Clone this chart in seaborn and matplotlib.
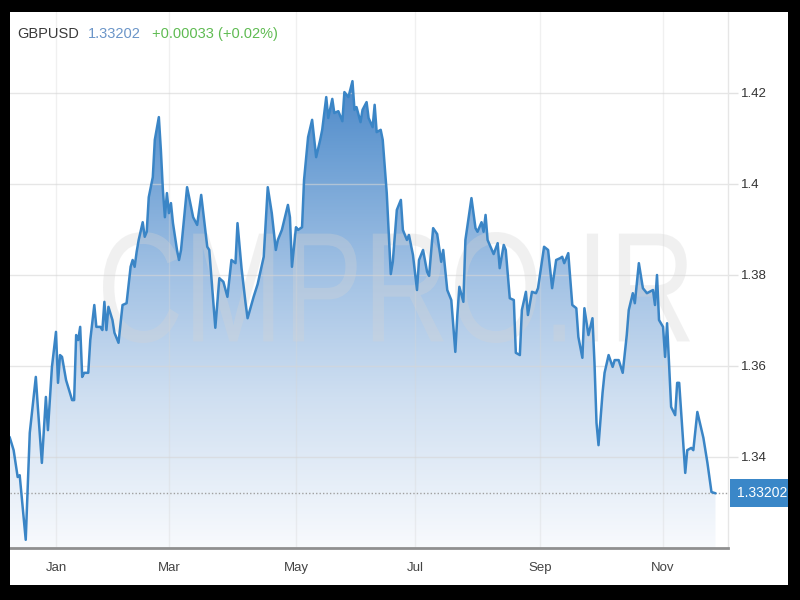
import numpy as np
import pandas as pd
import matplotlib
matplotlib.use("Agg")
import matplotlib.pyplot as plt
import matplotlib.dates as mdates
import seaborn as sns
from matplotlib.colors import LinearSegmentedColormap
from matplotlib.patches import Rectangle, PathPatch
from matplotlib.textpath import TextPath
from matplotlib.font_manager import FontProperties
from matplotlib.transforms import Affine2D

# ---------------- data ----------------
symbol = "GBPUSD"
last_price = 1.33202
change_text = "+0.00033 (+0.02%)"
watermark = "CMPRO.IR"
base_date = "2021-01-01"

# days since base_date
day_offsets = [
    -20, -18, -16, -15, -12, -10, -7, -6, -4, -2, -1, 1, 3, 4, 5, 6, 8, 11, 12, 13,
    14, 15, 16, 17, 19, 20, 22, 23, 25, 26, 27, 28, 29, 31, 32, 34, 36, 38, 40, 41,
    42, 43, 44, 46, 47, 48, 49, 51, 52, 54, 55, 56, 57, 58, 59, 60, 61, 63, 64, 65,
    68, 71, 73, 75, 78, 79, 82, 84, 86, 88, 90, 92, 93, 95, 97, 98, 101, 103, 106, 108,
    110, 112, 113, 115, 118, 119, 120, 122, 123, 125, 126, 128, 130, 132, 134, 135, 137, 138, 140, 141,
    143, 145, 146, 148, 150, 151, 152, 154, 155, 157, 158, 160, 161, 162, 164, 165, 167, 168, 169, 170,
    172, 174, 175, 177, 178, 180, 182, 183, 185, 187, 188, 190, 192, 194, 195, 197, 199, 201, 202, 203,
    205, 206, 209, 211, 212, 214, 215, 216, 217, 220, 222, 223, 225, 226, 228, 230, 231, 233, 234, 236,
    237, 239, 241, 242, 245, 247, 249, 251, 253, 254, 255, 257, 259, 261, 262, 264, 265, 267, 269, 270,
    271, 272, 274, 275, 277, 279, 280, 282, 284, 286, 287, 289, 290, 292, 294, 296, 299, 300, 301, 302,
    304, 305, 306, 308, 310, 311, 312, 314, 315, 316, 318, 319, 321, 324, 326, 328, 330,
]
prices = [
    1.3444, 1.3415, 1.3356, 1.3360, 1.3218, 1.3453, 1.3576, 1.3510, 1.3387, 1.3532,
    1.3459, 1.3598, 1.3675, 1.3563, 1.3624, 1.3620, 1.3569, 1.3525, 1.3525, 1.3668,
    1.3657, 1.3686, 1.3576, 1.3585, 1.3585, 1.3657, 1.3734, 1.3686, 1.3686, 1.3679,
    1.3741, 1.3679, 1.3730, 1.3701, 1.3673, 1.3651, 1.3734, 1.3738, 1.3818, 1.3833,
    1.3818, 1.3851, 1.3877, 1.3916, 1.3884, 1.3895, 1.3971, 1.4015, 1.4097, 1.4147,
    1.4075, 1.3987, 1.3927, 1.3980, 1.3936, 1.3958, 1.3914, 1.3855, 1.3833, 1.3855,
    1.3993, 1.3927, 1.3910, 1.3976, 1.3862, 1.3855, 1.3684, 1.3793, 1.3785, 1.3752,
    1.3833, 1.3826, 1.3914, 1.3815, 1.3738, 1.3705, 1.3752, 1.3780, 1.3840, 1.3993,
    1.3936, 1.3855, 1.3877, 1.3899, 1.3954, 1.3927, 1.3818, 1.3905, 1.3899, 1.3905,
    1.4009, 1.4103, 1.4141, 1.4059, 1.4097, 1.4119, 1.4191, 1.4145, 1.4187, 1.4156,
    1.4160, 1.4138, 1.4202, 1.4191, 1.4226, 1.4163, 1.4169, 1.4136, 1.4163, 1.4180,
    1.4145, 1.4125, 1.4174, 1.4114, 1.4119, 1.4097, 1.3980, 1.3892, 1.3802, 1.3829,
    1.3943, 1.3965, 1.3899, 1.3877, 1.3888, 1.3844, 1.3767, 1.3833, 1.3855, 1.3807,
    1.3798, 1.3903, 1.3890, 1.3829, 1.3855, 1.3767, 1.3745, 1.3631, 1.3712, 1.3774,
    1.3741, 1.3877, 1.3969, 1.3903, 1.3895, 1.3916, 1.3895, 1.3932, 1.3877, 1.3846,
    1.3870, 1.3815, 1.3866, 1.3855, 1.3749, 1.3745, 1.3629, 1.3624, 1.3723, 1.3763,
    1.3712, 1.3763, 1.3760, 1.3771, 1.3862, 1.3855, 1.3771, 1.3833, 1.3837, 1.3840,
    1.3826, 1.3848, 1.3734, 1.3727, 1.3664, 1.3618, 1.3727, 1.3668, 1.3705, 1.3607,
    1.3475, 1.3426, 1.3541, 1.3585, 1.3624, 1.3598, 1.3613, 1.3613, 1.3585, 1.3668,
    1.3723, 1.3760, 1.3738, 1.3826, 1.3771, 1.3760, 1.3767, 1.3734, 1.3800, 1.3701,
    1.3686, 1.3620, 1.3694, 1.3510, 1.3492, 1.3563, 1.3563, 1.3431, 1.3365, 1.3415,
    1.3420, 1.3415, 1.3499, 1.3442, 1.3387, 1.3323, 1.33202,
]

month_tick_dates = ["2021-01-04", "2021-03-01", "2021-05-03", "2021-07-01", "2021-09-01", "2021-11-01"]
month_tick_labels = ["Jan", "Mar", "May", "Jul", "Sep", "Nov"]
price_ticks = [1.34, 1.36, 1.38, 1.40, 1.42]

# ---------------- style ----------------
sns.set_theme(style="white")
plt.rcParams["font.family"] = ["Liberation Sans", "DejaVu Sans"]

LINE_C = "#3a85c6"
BOX_C = "#3a87c8"

df = pd.DataFrame({
    "date": pd.to_datetime(base_date) + pd.to_timedelta(day_offsets, unit="D"),
    "price": prices,
})

fig = plt.figure(figsize=(8, 6), dpi=100)
fig.patch.set_facecolor("white")

ax = fig.add_axes([10 / 800, 52 / 600, 718 / 800, 536 / 600])
ax.set_facecolor("white")

base = pd.to_datetime(base_date)
x0 = base + pd.Timedelta(days=-19.8)
x1 = base + pd.Timedelta(days=336.2)
y0, y1 = 1.32, 1.4378

# gradient fill under the line
poly = ax.fill_between(df["date"], df["price"], 1.30, facecolor="none", edgecolor="none")
cmap = LinearSegmentedColormap.from_list(
    "fade", [(0.0, "#f8fafd"), (0.3, "#cfdff1"), (0.55, "#a1c1e4"),
             (0.8, "#699dd3"), (1.0, "#3f7ec2")])
grad = np.linspace(0, 1, 256).reshape(-1, 1)
im = ax.imshow(grad, extent=[mdates.date2num(x0), mdates.date2num(x1), 1.32, 1.43],
               origin="lower", aspect="auto", cmap=cmap, zorder=1)
im.set_clip_path(poly.get_paths()[0], ax.transData)

# grid lines above fill, subtle
for t in price_ticks:
    ax.axhline(t, color="#d6d6d6", lw=1, alpha=0.6, zorder=2)
for d in pd.to_datetime(month_tick_dates):
    ax.axvline(d, color="#d6d6d6", lw=1, alpha=0.35, zorder=2)

# watermark
fp = FontProperties(family="Liberation Sans")
tp = TextPath((0, 0), watermark, size=100, prop=fp)
ext = tp.get_extents()
tx, ty, tw, th = 103 / 800, 257 / 600, 587 / 800, 111 / 600
wtrans = (Affine2D().translate(-ext.x0, -ext.y0)
          .scale(tw / ext.width, th / ext.height)
          .translate(tx, ty) + fig.transFigure)
wm = PathPatch(tp, transform=wtrans, facecolor="#d4d4d4", edgecolor="none",
               alpha=0.33, zorder=2.5)
ax.add_patch(wm)

# line
sns.lineplot(data=df, x="date", y="price", ax=ax, color=LINE_C, linewidth=1.8, zorder=3)

# last price dotted line + label
ax.axhline(last_price, color="#a0a0a0", lw=1, ls=(0, (1, 1.5)), zorder=2.8)
ax.text(1.0125, last_price, f"{last_price:.5f}", transform=ax.get_yaxis_transform(),
        ha="left", va="center", fontsize=10, color="white", clip_on=False,
        bbox=dict(boxstyle="square,pad=0.5", facecolor=BOX_C, edgecolor="none"))

ax.set_xlim(x0, x1)
ax.set_ylim(y0, y1)
ax.set_xlabel("")
ax.set_ylabel("")

ax.set_xticks(pd.to_datetime(month_tick_dates))
ax.set_xticklabels(month_tick_labels)
ax.set_yticks(price_ticks)
ax.set_yticklabels([f"{t:g}" for t in price_ticks])
ax.yaxis.tick_right()
ax.tick_params(axis="y", length=7.5, width=1, color="#e2e2e2", labelsize=9.5,
               labelcolor="#333333", pad=2, left=False, right=True)
ax.tick_params(axis="x", length=0, labelsize=9.5, labelcolor="#444444", pad=10)

for s in ["left", "top"]:
    ax.spines[s].set_visible(False)
ax.spines["right"].set_color("#e6e6e6")
ax.spines["right"].set_linewidth(1)
ax.spines["bottom"].set_color("#8f8f8f")
ax.spines["bottom"].set_linewidth(2)
ax.grid(False)

# header
hy = 566 / 600
fig.text(17 / 800, hy, symbol, color="#3a3a3a", fontsize=10.5, va="center", ha="left")
fig.text(88 / 800, hy, f"{last_price:.5f}", color="#6b95c8", fontsize=10.5, va="center", ha="left")
fig.text(152 / 800, hy, change_text, color="#5fbb52", fontsize=10.5, va="center", ha="left")

# black frame drawn on top
for (fx, fy, fw, fh) in [(0, 0, 10, 600), (788, 0, 12, 600), (0, 0, 800, 15), (0, 588, 800, 12)]:
    fig.add_artist(Rectangle((fx / 800, fy / 600), fw / 800, fh / 600,
                             transform=fig.transFigure, facecolor="black",
                             edgecolor="none", zorder=100))

fig.savefig("out.png", dpi=100, facecolor=fig.get_facecolor())
